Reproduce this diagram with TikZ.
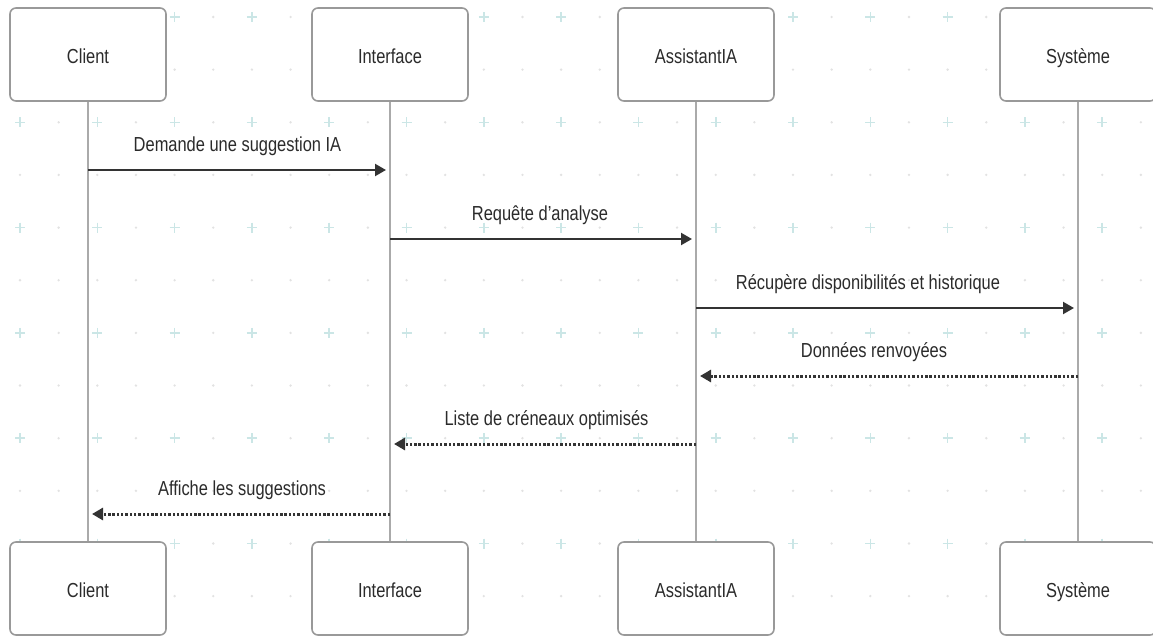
\documentclass[tikz,border=0pt]{standalone}
\usepackage{fontspec}
\setmainfont{Liberation Sans}[FakeStretch=0.81]
\usetikzlibrary{arrows.meta}
\definecolor{txt}{HTML}{2b2b2b}
\definecolor{arr}{HTML}{333333}
\definecolor{boxline}{HTML}{999999}
\definecolor{lifel}{HTML}{aaaaaa}
\definecolor{crossc}{HTML}{cbe6e6}
\definecolor{dotc}{HTML}{e2e2e2}
\tikzset{
  actor/.style={draw=boxline, line width=1.6pt, fill=white, rounded corners=6pt,
    minimum width=156pt, minimum height=93pt, inner sep=0pt,
    text height=18pt, text depth=1pt,
    font=\fontsize{20.3}{24}\selectfont, text=txt},
  lifeline/.style={draw=lifel, line width=1.5pt},
  msg/.style={draw=arr, line width=2.2pt, -{Triangle[length=11pt,width=12pt]}, shorten >=4pt},
  reply/.style={msg, line width=3pt, dash pattern=on 2.4pt off 1.9pt},
  lbl/.style={anchor=base, inner sep=0pt, font=\fontsize{20.3}{24}\selectfont, text=txt},
  gcross/.style={draw=crossc, line width=1.6pt},
}
\begin{document}
\begin{tikzpicture}[x=1pt, y=-1pt]
\useasboundingbox (0,0) rectangle (1153,637);
\fill[white] (0,0) rectangle (1153,637);
% background grid
\foreach \j in {0,...,5} {
  \foreach \i in {0,...,14} {
    \draw[gcross] ({20+77.3*\i-5},{17+105.3*\j}) -- ++(10,0);
    \draw[gcross] ({20+77.3*\i},{17+105.3*\j-5}) -- ++(0,10);
    \fill[dotc] ({58.65+77.3*\i},{17+105.3*\j}) circle (1.3pt);
  }
  \foreach \k in {0,...,29} {
    \fill[dotc] ({20+38.65*\k},{69.6+105.3*\j}) circle (1.3pt);
  }
}
% actors top
\node[actor] (c1) at (88,54.5) {Client};
\node[actor] (i1) at (390,54.5) {Interface};
\node[actor] (a1) at (696,54.5) {AssistantIA};
\node[actor] (s1) at (1078,54.5) {Système};
% actors bottom
\node[actor] (c2) at (88,588.5) {Client};
\node[actor] (i2) at (390,588.5) {Interface};
\node[actor] (a2) at (696,588.5) {AssistantIA};
\node[actor] (s2) at (1078,588.5) {Système};
% lifelines
\draw[lifeline] (c1) -- (c2);
\draw[lifeline] (i1) -- (i2);
\draw[lifeline] (a1) -- (a2);
\draw[lifeline] (s1) -- (s2);
% message anchor points on lifelines
\coordinate (m1a) at (88,170);   \coordinate (m1b) at (390,170);
\coordinate (m2a) at (390,239);  \coordinate (m2b) at (696,239);
\coordinate (m3a) at (696,308);  \coordinate (m3b) at (1078,308);
\coordinate (m4a) at (1078,376); \coordinate (m4b) at (696,376);
\coordinate (m5a) at (696,444);  \coordinate (m5b) at (390,444);
\coordinate (m6a) at (390,514);  \coordinate (m6b) at (88,514);
% messages
\draw[msg] (m1a) -- (m1b);
\draw[msg] (m2a) -- (m2b);
\draw[msg] (m3a) -- (m3b);
\draw[reply] (m4a) -- (m4b);
\draw[reply] (m5a) -- (m5b);
\draw[reply] (m6a) -- (m6b);
% labels
\node[lbl] (l1) at (237.5,151) {Demande une suggestion IA};
\node[lbl] (l2) at (540,220) {Requête d'analyse};
\node[lbl] (l3) at (868,289) {Récupère disponibilités et historique};
\node[lbl] (l4) at (874,357) {Données renvoyées};
\node[lbl] (l5) at (546.5,425) {Liste de créneaux optimisés};
\node[lbl] (l6) at (242,495) {Affiche les suggestions};
\end{tikzpicture}
\end{document}
